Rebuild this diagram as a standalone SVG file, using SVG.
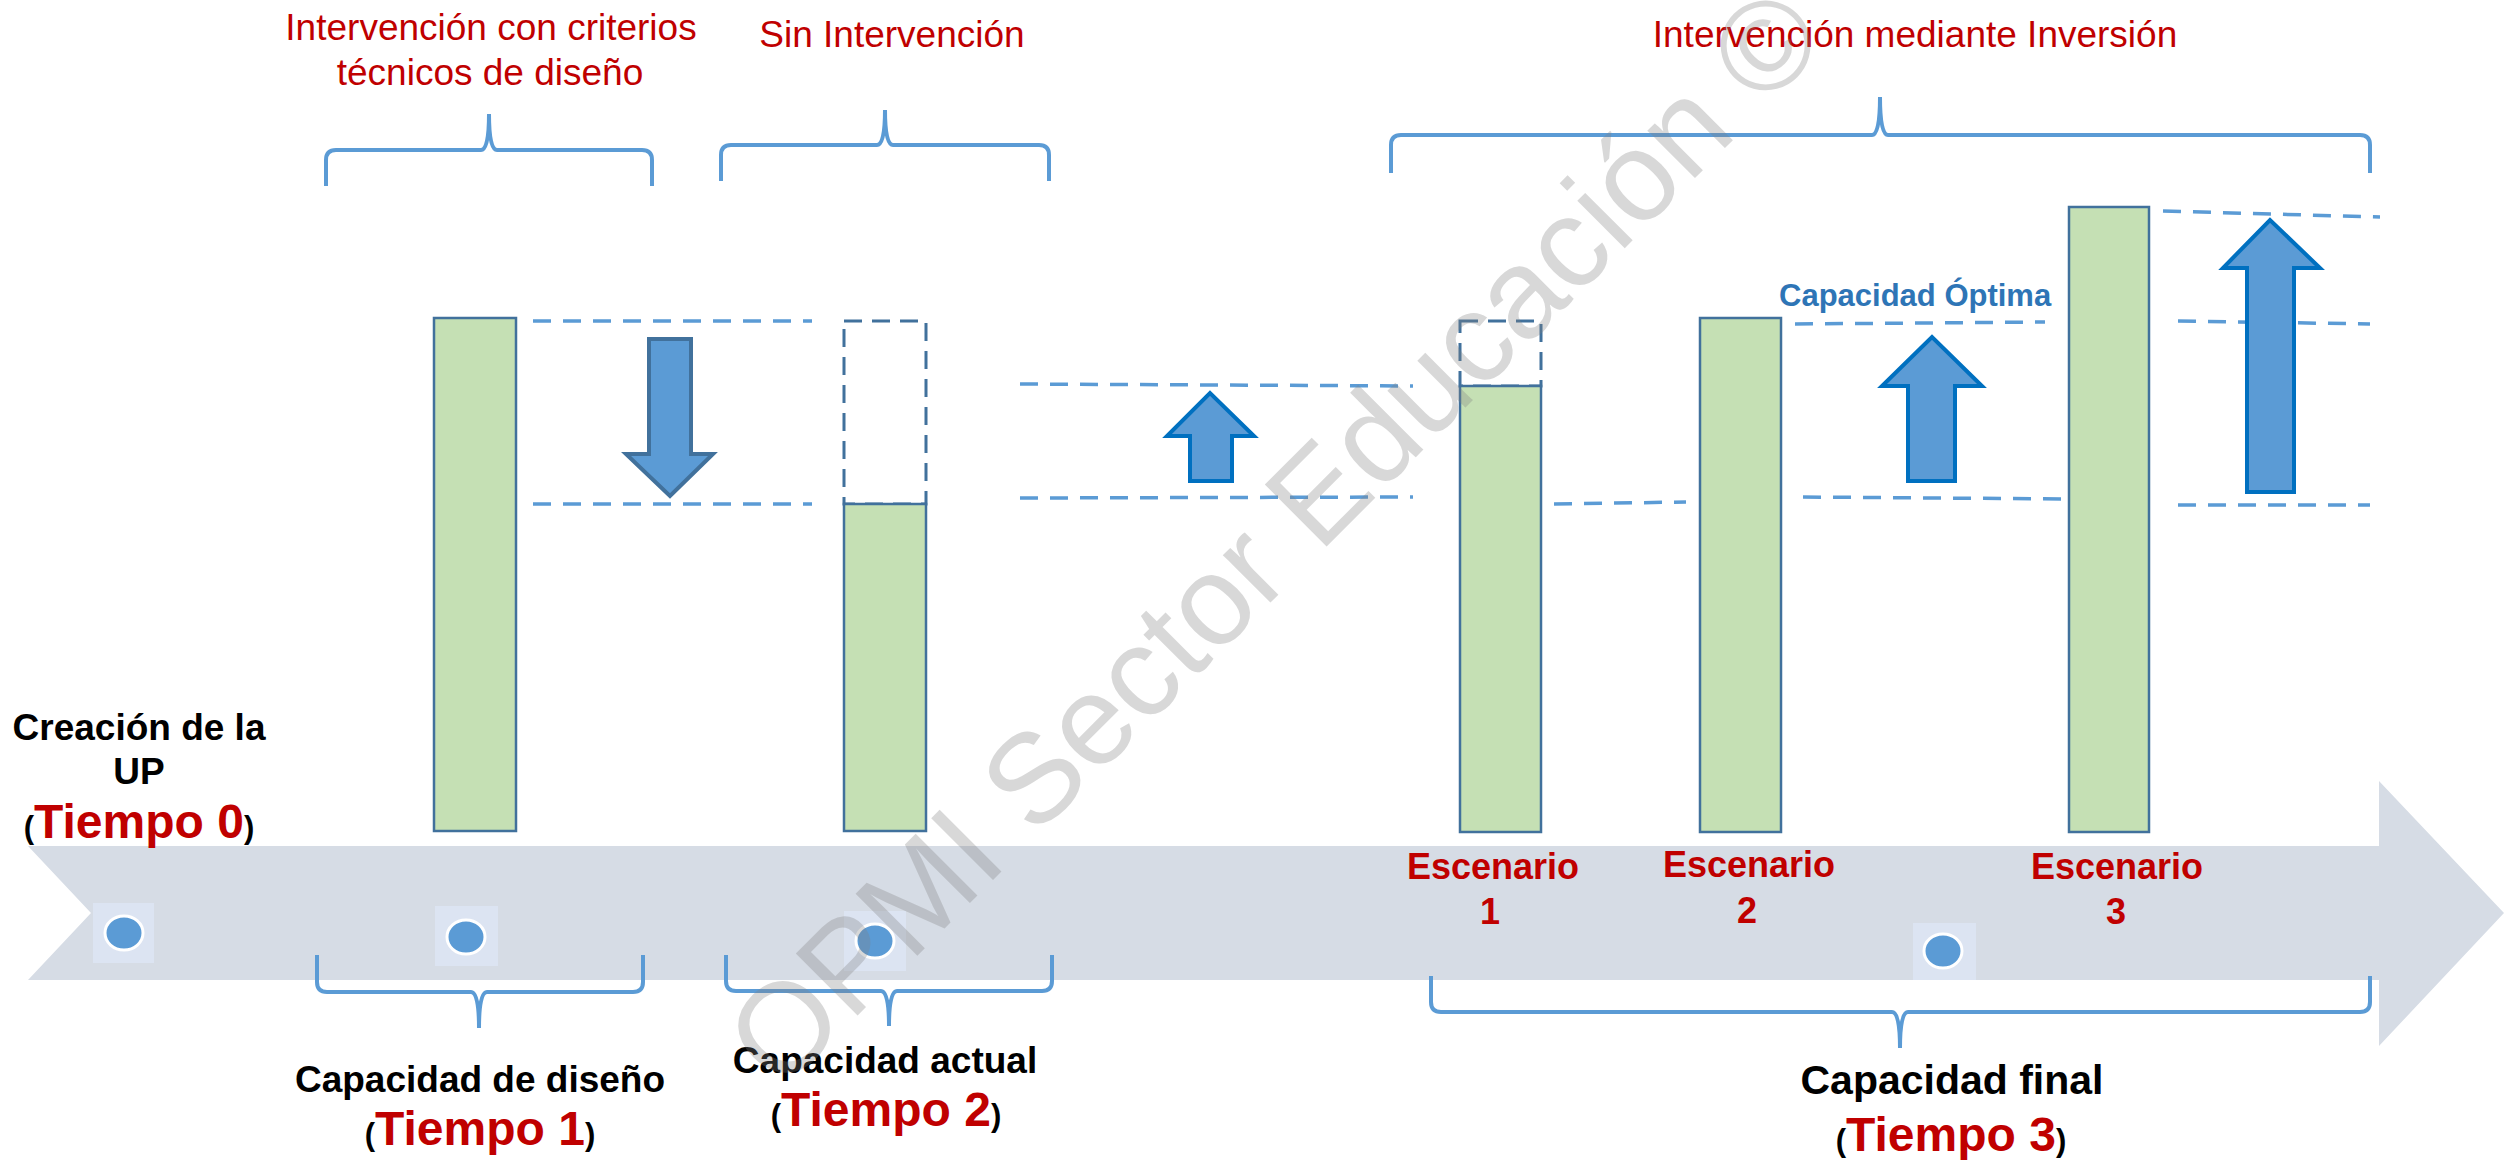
<svg xmlns="http://www.w3.org/2000/svg" width="2504" height="1160" viewBox="0 0 2504 1160">
<style>
text{font-family:"Liberation Sans",Arial,sans-serif}
.red{fill:#C00000;font-size:37px}
.blk{fill:#000;font-size:37px;font-weight:bold}
.tiempo{fill:#C00000;font-size:48px;font-weight:bold}
.paren{fill:#000;font-size:31px;font-weight:bold}
.esc{fill:#C00000;font-size:36px;font-weight:bold}
.brace{fill:none;stroke:#5B9BD5;stroke-width:4}
.bar{fill:#C5E0B4;stroke:#41719C;stroke-width:2.5}
.dash{fill:none;stroke:#5B9BD5;stroke-width:3.5;stroke-dasharray:18 12}
.ghost{fill:none;stroke:#41719C;stroke-width:3;stroke-dasharray:18 10}
.arr{fill:#5B9BD5;stroke:#0070C0;stroke-width:4}
.arrd{fill:#5B9BD5;stroke:#41719C;stroke-width:4}
.dotbg{fill:#DCE4F2}
.dot{fill:#5B9BD5;stroke:#FFFFFF;stroke-width:3}
</style>

<g id="timeline">
<polygon points="28,846 2379,846 2379,781 2504,913 2379,1046 2379,980 28,980 91,913" fill="#D6DCE5"/>
</g>

<g id="dots">
<rect class="dotbg" x="93" y="903" width="61" height="60"/>
<ellipse class="dot" cx="124" cy="933" rx="19" ry="17"/>
<rect class="dotbg" x="435" y="906" width="63" height="60"/>
<ellipse class="dot" cx="466" cy="937" rx="19" ry="17"/>
<rect class="dotbg" x="844" y="911" width="62" height="60"/>
<ellipse class="dot" cx="875" cy="941" rx="19" ry="17"/>
<rect class="dotbg" x="1913" y="923" width="63" height="57"/>
<ellipse class="dot" cx="1943" cy="951" rx="19" ry="17"/>
</g>

<g id="connectors">
<line class="dash" x1="533" y1="321" x2="812" y2="321"/>
<line class="dash" x1="533" y1="504" x2="812" y2="504"/>
<line class="dash" x1="1020" y1="384" x2="1413" y2="386"/>
<line class="dash" x1="1020" y1="498" x2="1413" y2="497"/>
<line class="dash" x1="1554" y1="504" x2="1686" y2="502"/>
<line class="dash" x1="1795" y1="324" x2="2045" y2="322"/>
<line class="dash" x1="1803" y1="497" x2="2067" y2="499"/>
<line class="dash" x1="2163" y1="211" x2="2380" y2="217"/>
<line class="dash" x1="2178" y1="321" x2="2370" y2="324"/>
<line class="dash" x1="2178" y1="505" x2="2370" y2="505"/>
</g>

<g id="braces">
<path class="brace" d="M326,186 L326,160 Q326,150 336,150 L481,150 Q489,150 489,114 Q489,150 497,150 L642,150 Q652,150 652,160 L652,186"/>
<path class="brace" d="M721,181 L721,155 Q721,145 731,145 L877,145 Q885,145 885,110 Q885,145 893,145 L1039,145 Q1049,145 1049,155 L1049,181"/>
<path class="brace" d="M1391,173 L1391,145 Q1391,135 1401,135 L1872,135 Q1880,135 1880,97 Q1880,135 1888,135 L2360,135 Q2370,135 2370,145 L2370,173"/>
<path class="brace" d="M317,955 L317,982 Q317,992 327,992 L471,992 Q479,992 479,1028 Q479,992 487,992 L633,992 Q643,992 643,982 L643,955"/>
<path class="brace" d="M726,955 L726,981 Q726,991 736,991 L881,991 Q889,991 889,1026 Q889,991 897,991 L1042,991 Q1052,991 1052,981 L1052,955"/>
<path class="brace" d="M1431,976 L1431,1002 Q1431,1012 1441,1012 L1892,1012 Q1900,1012 1900,1048 Q1900,1012 1908,1012 L2360,1012 Q2370,1012 2370,1002 L2370,976"/>
</g>

<g id="bar-disenio"><rect class="bar" x="434" y="318" width="82" height="513"/></g>
<g id="bar-actual">
<rect class="ghost" x="844" y="321" width="82" height="183"/>
<rect class="bar" x="844" y="504" width="82" height="327"/>
</g>
<g id="bar-esc1">
<rect class="ghost" x="1460" y="321" width="81" height="65"/>
<rect class="bar" x="1460" y="386" width="81" height="446"/>
</g>
<g id="bar-esc2"><rect class="bar" x="1700" y="318" width="81" height="514"/></g>
<g id="bar-esc3"><rect class="bar" x="2069" y="207" width="80" height="625"/></g>

<g id="arrow-down"><polygon class="arrd" points="649,339 691,339 691,454 713,454 670,496 626,454 649,454"/></g>
<g id="arrow-up-1"><polygon class="arr" points="1190,481 1232,481 1232,436 1254,436 1210,393 1167,436 1190,436"/></g>
<g id="arrow-up-2"><polygon class="arr" points="1908,481 1955,481 1955,386 1982,386 1932,337 1882,386 1908,386"/></g>
<g id="arrow-up-3"><polygon class="arr" points="2247,492 2294,492 2294,268 2320,268 2270,220 2223,268 2247,268"/></g>

<g id="labels-top">
<text class="red" x="491" y="40" text-anchor="middle">Intervención con criterios</text>
<text class="red" x="490" y="85" text-anchor="middle">técnicos de diseño</text>
<text class="red" x="892" y="47" text-anchor="middle">Sin Intervención</text>
<text class="red" x="1915" y="47" text-anchor="middle">Intervención mediante Inversión</text>
<text x="1779" y="306" style="font-size:31px;font-weight:bold;fill:#2E75B6">Capacidad Óptima</text>
</g>

<g id="node-t0">
<text class="blk" x="139" y="740" text-anchor="middle">Creación de la</text>
<text class="blk" x="139" y="784" text-anchor="middle">UP</text>
<text x="139" y="838" text-anchor="middle"><tspan class="paren">(</tspan><tspan class="tiempo">Tiempo 0</tspan><tspan class="paren">)</tspan></text>
</g>
<g id="node-t1">
<text class="blk" x="480" y="1092" text-anchor="middle">Capacidad de diseño</text>
<text x="480" y="1145" text-anchor="middle"><tspan class="paren">(</tspan><tspan class="tiempo">Tiempo 1</tspan><tspan class="paren">)</tspan></text>
</g>
<g id="node-t2">
<text class="blk" x="885" y="1073" text-anchor="middle">Capacidad actual</text>
<text x="886" y="1126" text-anchor="middle"><tspan class="paren">(</tspan><tspan class="tiempo">Tiempo 2</tspan><tspan class="paren">)</tspan></text>
</g>
<g id="node-esc">
<text class="esc" x="1493" y="879" text-anchor="middle">Escenario</text>
<text class="esc" x="1490" y="924" text-anchor="middle">1</text>
<text class="esc" x="1749" y="877" text-anchor="middle">Escenario</text>
<text class="esc" x="1747" y="923" text-anchor="middle">2</text>
<text class="esc" x="2117" y="879" text-anchor="middle">Escenario</text>
<text class="esc" x="2116" y="924" text-anchor="middle">3</text>
</g>
<g id="node-t3">
<text class="blk" x="1952" y="1094" text-anchor="middle" style="font-size:41px">Capacidad final</text>
<text x="1951" y="1151" text-anchor="middle"><tspan class="paren">(</tspan><tspan class="tiempo">Tiempo 3</tspan><tspan class="paren">)</tspan></text>
</g>

<g id="watermark">
<text transform="translate(1305,568) rotate(-45)" text-anchor="middle" style="font-size:127px;fill:#808080;opacity:0.3">OPMI Sector Educación ©</text>
</g>
</svg>
